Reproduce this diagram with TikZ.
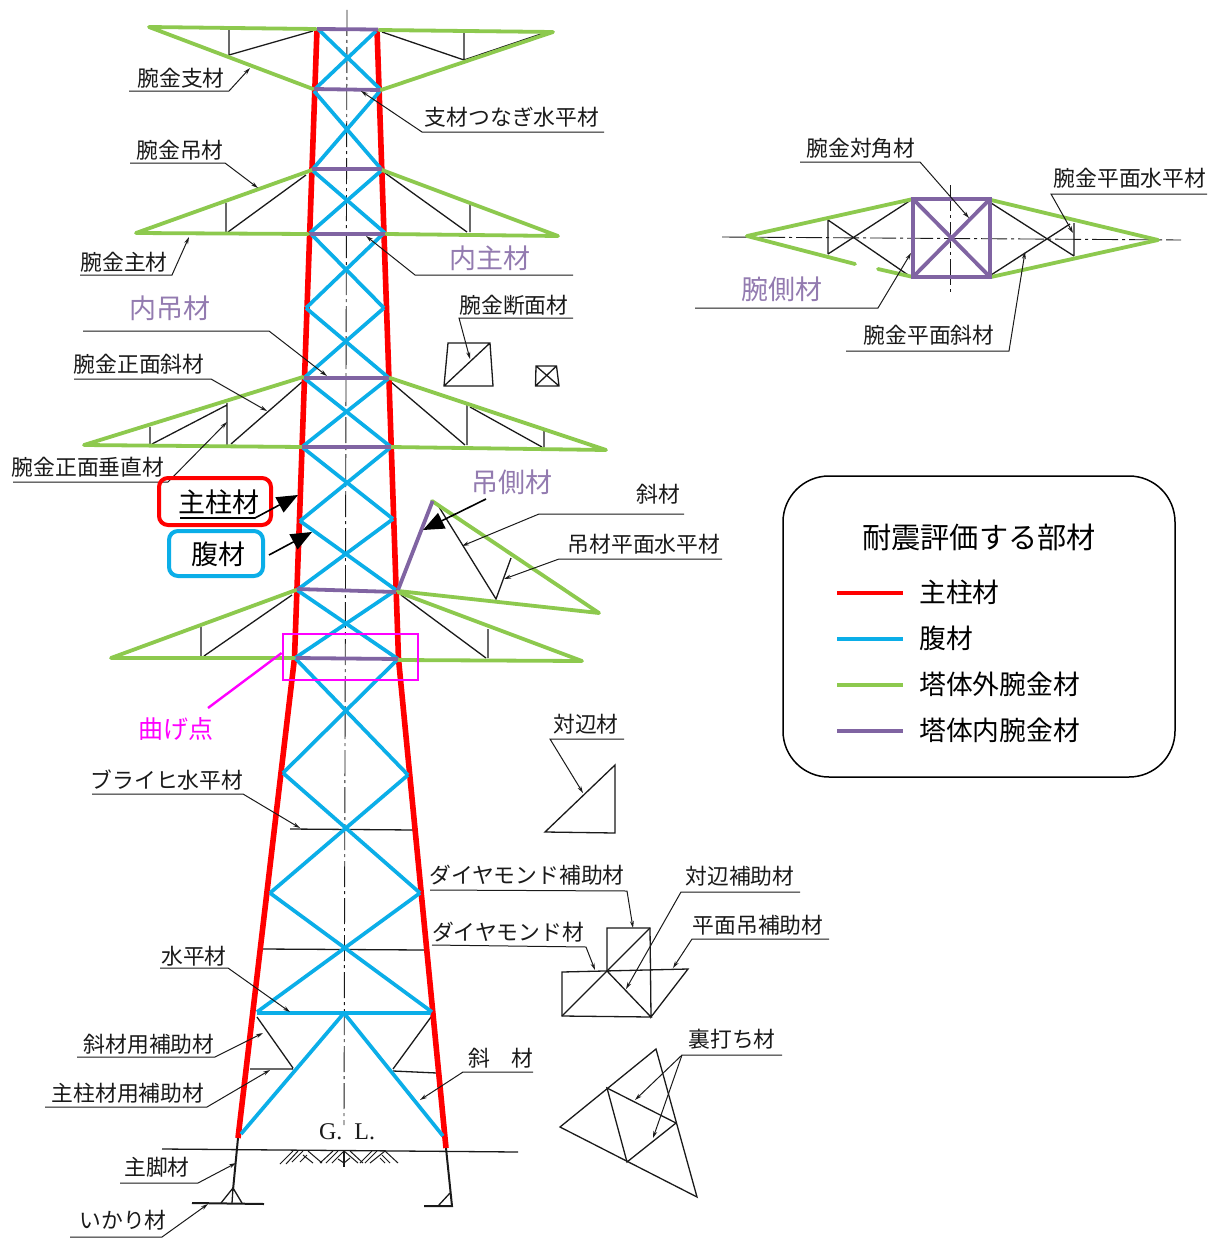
\documentclass[tikz,border=0pt]{standalone}
\usepackage{fontspec}
\setmainfont{Noto Sans CJK JP}
\newfontfamily\glfont{Liberation Serif}
\usetikzlibrary{arrows.meta}
\definecolor{cred}{HTML}{FF0000}
\definecolor{cblue}{HTML}{0BAEE8}
\definecolor{cgreen}{HTML}{8DC94E}
\definecolor{cpur}{HTML}{8064A2}
\definecolor{cmag}{HTML}{FF00FF}
\definecolor{ink}{HTML}{1A1A1A}
\tikzset{
 redm/.style={draw=cred,line width=5.6pt},
 bluem/.style={draw=cblue,line width=3.7pt},
 greenm/.style={draw=cgreen,line width=3.8pt,line cap=round,line join=round},
 purm/.style={draw=cpur,line width=3.8pt},
 blk/.style={draw=ink,line width=1.3pt},
 lead/.style={draw=ink,line width=1pt,-{Stealth[length=7pt,width=4pt]}},
 rule/.style={draw=ink,line width=1pt},
 cline/.style={draw=ink,line width=.9pt,dash pattern=on 26pt off 4pt on 3pt off 4pt},
 bigarrow/.style={draw=black,line width=1.6pt,-{Triangle[length=21pt,width=17pt]}},
 lab/.style={font=\fontsize{21.8}{24}\selectfont,inner sep=0pt,text=ink},
 plab/.style={font=\fontsize{27}{30}\selectfont,inner sep=0pt,text=cpur!85!white},
 mlab/.style={font=\fontsize{27}{30}\selectfont,inner sep=0pt,text=black},
 llab/.style={font=\fontsize{26.8}{30}\selectfont,inner sep=0pt,text=black,anchor=west},
 legline/.style={line width=3.6pt},
}
\begin{document}
\begin{tikzpicture}[x=1pt,y=-1pt]
\useasboundingbox (0,0) rectangle (1227,1239);
\fill[white] (0,0) rectangle (1227,1239);
%% centre lines
\draw[cline] (347,10) -- (344,1125);
\draw[cline] (722,237) -- (1181,240);
\draw[cline] (950,185) -- (950,293);
\draw[blk] (344,1151) -- (344,1167);
%% ground
\draw[blk] (162,1149) -- (518,1152);
\foreach \a/\b/\c/\d in {
 280/1164/293/1151, 286/1164/298/1151, 292/1162/303/1151,
 308/1151/322/1163, 303/1155/313/1163, 300/1162/307/1155,
 320/1163/333/1151, 326/1163/338/1151, 332/1163/344/1151,
 344/1151/358/1163, 350/1151/363/1163, 338/1159/344/1163, 350/1158/344/1163,
 360/1163/372/1151, 365/1163/377/1151, 370/1163/385/1151,
 385/1151/398/1163, 382/1155/390/1163, 380/1158/385/1163}{
  \draw[draw=ink,line width=1pt] (\a,\b) -- (\c,\d);
}
%% legs
\draw[draw=ink,line width=2pt] (238,1138) -- (233,1190);
\draw[draw=ink,line width=2pt] (192,1203) -- (264,1204);
\draw[blk] (221,1203) -- (233,1188) -- (242,1203) (233,1188) -- (232,1203);
\draw[draw=ink,line width=2pt] (446,1148) -- (452,1206) -- (424,1206);
\draw[blk] (438,1206) -- (450,1193);
%% tower-lower black
\draw[blk] (290,829) -- (415,830);
\draw[blk] (262,949) -- (425,950);
\draw[blk] (257,1017) -- (293,1068) (250,1069) -- (293,1069);
\draw[blk] (431,1017) -- (393,1069) (393,1071) -- (437,1073);
%% arm black
\draw[blk] (229,30) -- (229,55) -- (313,31);
\draw[blk] (382,32) -- (464,60) -- (464,32) (464,60) -- (544,33);
\draw[blk] (226,203) -- (226,232) (228,232) -- (306,175);
\draw[blk] (385,173) -- (467,232) (470,203) -- (470,232);
\draw[blk] (150,427) -- (150,445) (152,444) -- (227,405) (227,403) -- (227,445) (231,444) -- (302,382);
\draw[blk] (391,382) -- (465,445) (467,405) -- (467,445) (470,407) -- (542,447) (544,431) -- (544,447);
\draw[blk] (201,627) -- (201,657) (204,656) -- (292,595);
\draw[blk] (401,595) -- (486,658) (488,629) -- (488,658);
\draw[blk] (439,507) -- (496,599) -- (511,558);
%% red
\draw[redm,line join=round] (317,29) -- (294.5,658) -- (238,1138);
\draw[redm,line join=round] (377,29) -- (398.5,659) -- (446,1148);
%% blue lattice
\foreach \a/\b/\c/\d in {
 318/29/380/89, 376/31/314/90,
 314/91/382/170, 380/91/312/170,
 312/170/385/233, 382/170/310/233,
 310/233/384/308, 384/233/306/308,
 306/308/389/378, 384/308/304/378,
 304/378/391/447, 389/378/302/447,
 302/447/393/519, 391/447/300/521,
 300/521/396/590, 393/519/297/590,
 297/590/398/659, 396/590/295/658,
 295/658/408/775, 398/659/283/773,
 283/773/420/893, 408/775/270/893,
 270/893/432/1012, 420/893/257/1012,
 257/1013/431/1013, 344/1013/241/1134, 344/1013/443/1136}{
 \draw[bluem] (\a,\b) -- (\c,\d);
}
%% green arms
\draw[greenm] (316,29) -- (149,27) -- (313,89);
\draw[greenm] (379,30) -- (553,32) -- (381,90);
\draw[greenm] (312,170) -- (136,233) -- (308,234);
\draw[greenm] (382,170) -- (558,236) -- (386,234);
\draw[greenm] (303,377) -- (84,445) -- (302,447);
\draw[greenm] (390,378) -- (606,450) -- (391,447);
\draw[greenm] (296,590) -- (111,658) -- (294,658);
\draw[greenm] (398,592) -- (582,661) -- (398,660);
\draw[greenm] (432,501) -- (599,613) -- (398,591);
%% purple
\draw[purm] (317,29) -- (378,29.5);
\draw[purm] (314,89) -- (380,90);
\draw[purm] (312,169) -- (382,169);
\draw[purm] (310,234) -- (385,234);
\draw[purm] (304,378) -- (389,378);
\draw[purm] (302,447) -- (391,447);
\draw[purm] (297,589) -- (396,592);
\draw[purm] (296,658) -- (398,659);
\draw[purm] (432.6,501) -- (398,590);
%% plan view of arm
\draw[blk] (828,220) -- (828,254) (828,220) -- (911,277) (828,254) -- (911,200);
\draw[blk] (991,203) -- (1074,256) (991,275) -- (1070,224) (1074,223) -- (1074,256);
\draw[greenm] (747,236) -- (913,199);
\draw[greenm] (747,236) -- (855,264);
\draw[greenm] (878,269) -- (913,277);
\draw[greenm] (991,200) -- (1158,240) -- (991,277);
\draw[purm] (913,199) rectangle (990,277);
\draw[purm] (913,199) -- (990,277) (990,199) -- (913,277);
%% small sections
\draw[blk] (448,343) -- (490,343) -- (493,386) -- (444,386) -- cycle (444,386) -- (490,343);
\draw[blk] (536,366) -- (556.5,366) -- (559,386) -- (535.5,386) -- cycle (536,366) -- (559,386) (556.5,366) -- (535.5,386);
\draw[blk] (615,765) -- (615,833) -- (545,832) -- cycle;
\draw[blk] (607,971) -- (607,928) -- (650,928) -- (651,1017) -- (688,969) -- (562,972) -- (562,1016) -- (651,1017) -- (607,971);
\draw[blk] (562,1016) -- (650,928);
\draw[blk] (656,1049) -- (560,1127) -- (697,1197) -- cycle;
\draw[blk] (607,1088) -- (676,1123) -- (627,1162) -- cycle;
%% leaders
\draw[lead] (129,91) -- (229,91) -- (250,68);
\draw[lead] (130,163) -- (225,163) -- (258,188);
\draw[lead] (80,275) -- (172,275) -- (189,237);
\draw[lead] (604,132) -- (422,132) -- (361,91);
\draw[lead] (573,275) -- (415,275) -- (366,236);
\draw[lead] (83,331) -- (269,331) -- (327,376);
\draw[lead] (74,379) -- (211,379) -- (267,411);
\draw[lead] (13,482) -- (168,482) -- (227,422);
\draw[lead] (573,318) -- (459,318) -- (470,359);
\draw[lead] (684,514) -- (539,514) -- (462,546);
\draw[lead] (722,559) -- (559,559) -- (504,579);
\draw[lead] (92,794) -- (243,794) -- (300,828);
\draw[lead] (160,968) -- (228,968) -- (290,1012);
\draw[lead] (77,1057) -- (215,1057) -- (263,1033);
\draw[lead] (45,1107) -- (207,1107) -- (270,1070);
\draw[lead] (533,1072) -- (463,1072) -- (420,1100);
\draw[lead] (120,1183) -- (198,1183) -- (236,1163);
\draw[lead] (70,1237) -- (162,1237) -- (208,1204);
\draw[lead] (624,739) -- (550,739) -- (583,793);
\draw[lead] (430,890) -- (627,891) -- (633,928);
\draw[lead] (800,892) -- (681,892) -- (626,989);
\draw[lead] (432,945) -- (586,947) -- (595,970);
\draw[lead] (829,939) -- (692,939) -- (673,968);
\draw[lead] (782,1055) -- (682,1055) -- (635,1100);
\draw[lead] (682,1055) -- (653,1138);
\draw[lead] (800,162) -- (920,162) -- (969,218);
\draw[lead] (1207,194) -- (1051,194) -- (1073,233);
\draw[lead] (695,308) -- (878,308) -- (911,253);
\draw[lead] (846,351) -- (1009,351) -- (1025,252);
%% magenta
\draw[cmag,line width=2.8pt] (283,634) rectangle (418,680);
\draw[cmag,line width=2.4pt] (281.6,653) -- (208,708);
%% labels
\node[lab] (t1) at (181,78) {腕金支材};
\node[lab] (t2) at (180,150) {腕金吊材};
\node[lab] (t3) at (124,262) {腕金主材};
\node[lab] (t4) at (512,117) {支材つなぎ水平材};
\node[lab] (t5) at (514,305) {腕金断面材};
\node[lab] (t6) at (139,364) {腕金正面斜材};
\node[lab] (t7) at (88,467) {腕金正面垂直材};
\node[lab] (t8) at (658,494) {斜材};
\node[lab] (t9) at (644,544) {吊材平面水平材};
\node[lab] (t10) at (586,724) {対辺材};
\node[lab] (t11) at (167,780) {ブライヒ水平材};
\node[lab] (t12) at (527,875) {ダイヤモンド補助材};
\node[lab] (t13) at (740,876) {対辺補助材};
\node[lab] (t14) at (508,932) {ダイヤモンド材};
\node[lab] (t15) at (758,925) {平面吊補助材};
\node[lab] (t16) at (194,956) {水平材};
\node[lab] (t17) at (149,1044) {斜材用補助材};
\node[lab] (t18) at (128,1093) {主柱材用補助材};
\node[lab] (t19) at (501,1058) {斜　材};
\node[lab] (t20) at (732,1039) {裏打ち材};
\node[lab,font=\glfont\fontsize{24}{26}\selectfont] (t21) at (347,1132) {G.\hspace{.5em}L.};
\node[lab] (t22) at (157,1167) {主脚材};
\node[lab] (t23) at (123,1220) {いかり材};
\node[lab] (t24) at (861,148) {腕金対角材};
\node[lab] (t25) at (1130,178) {腕金平面水平材};
\node[lab] (t26) at (929,335) {腕金平面斜材};
\node[plab] (p1) at (490,258) {内主材};
\node[plab] (p2) at (170,308) {内吊材};
\node[plab] (p3) at (512,482) {吊側材};
\node[plab] (p4) at (782,289) {腕側材};
\node[lab,text=cmag,font=\fontsize{25}{26}\selectfont] (mg) at (176,729) {曲げ点};
%% callouts
\draw[draw=cred,line width=4pt,rounded corners=9pt] (159,478) rectangle (271,525);
\draw[draw=cblue,line width=4pt,rounded corners=9pt] (169,531) rectangle (263,576);
\node[mlab] (zc) at (219,502) {主柱材};
\node[mlab] (fz) at (218,554) {腹材};
\draw[bigarrow] (180,518) -- (255,518) -- (298,495);
\draw[bigarrow] (269,555) -- (312,532);
\draw[bigarrow] (486,499) -- (423,530);
%% legend
\draw[draw=black,line width=1.5pt,rounded corners=46pt] (783,476) rectangle (1175,777);
\node[mlab,font=\fontsize{29.2}{32}\selectfont] (lt) at (979,537) {耐震評価する部材};
\draw[legline,cred] (837,593) -- (903,593);
\draw[legline,cblue] (837,639) -- (903,639);
\draw[legline,cgreen] (837,685) -- (903,685);
\draw[legline,cpur] (837,731) -- (903,731);
\node[llab] (l1) at (919,592) {主柱材};
\node[llab] (l2) at (919,638) {腹材};
\node[llab] (l3) at (919,684) {塔体外腕金材};
\node[llab] (l4) at (919,730) {塔体内腕金材};
\end{tikzpicture}
\end{document}
